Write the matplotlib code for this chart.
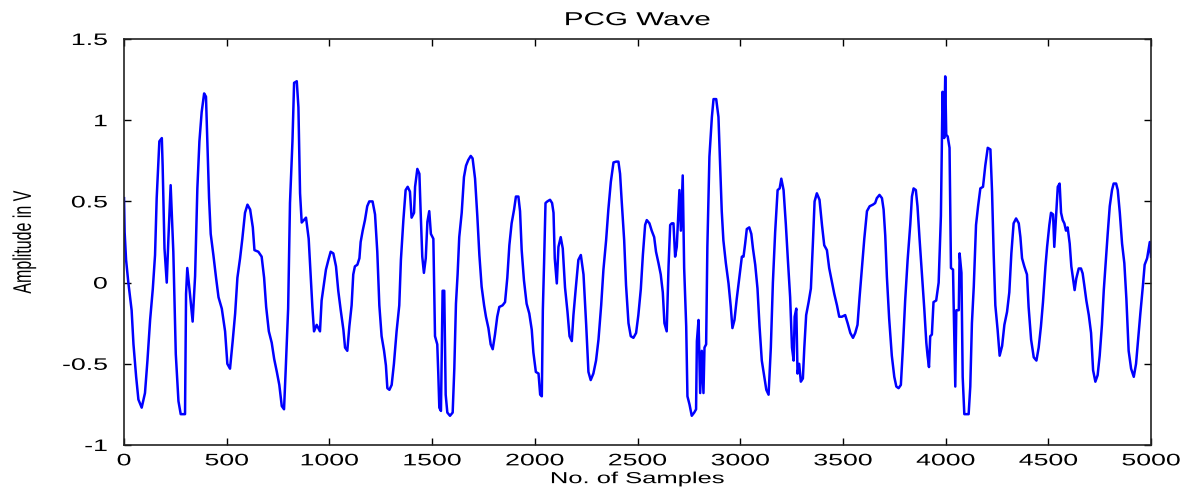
import numpy as np
import matplotlib
matplotlib.use("Agg")
import matplotlib.pyplot as plt
from matplotlib.ticker import FormatStrFormatter
from matplotlib.patheffects import AbstractPathEffect
from matplotlib.transforms import Affine2D

plt.rcParams['font.family'] = ['Liberation Sans', 'DejaVu Sans']
plt.rcParams['axes.unicode_minus'] = False

# points (sample index, amplitude in V)
samples = [0, 3, 10, 21, 37, 46, 59, 70, 86, 102, 114, 127, 140, 151, 159, 172, 184, 188,
           197, 208, 216, 227, 232, 240, 252, 265, 276, 297, 302, 308, 321, 334, 346, 357,
           367, 378, 390, 399, 406, 414, 422, 435, 448, 460, 476, 492, 503, 516, 529, 541,
           552, 565, 576, 589, 601, 614, 627, 635, 654, 670, 682, 692, 705, 719, 731, 744,
           756, 768, 779, 787, 799, 808, 820, 828, 841, 849, 857, 865, 886, 899, 909, 917,
           925, 938, 954, 962, 973, 983, 995, 1006, 1019, 1032, 1043, 1055, 1068, 1076,
           1087, 1097, 1108, 1116, 1124, 1136, 1146, 1152, 1162, 1173, 1184, 1194, 1210,
           1222, 1233, 1243, 1254, 1266, 1275, 1282, 1292, 1303, 1314, 1327, 1340, 1348,
           1360, 1371, 1381, 1392, 1400, 1412, 1417, 1428, 1438, 1444, 1452, 1460, 1469,
           1477, 1486, 1494, 1506, 1514, 1525, 1530, 1535, 1543, 1551, 1559, 1566, 1574,
           1587, 1600, 1608, 1616, 1624, 1632, 1644, 1655, 1665, 1676, 1688, 1697, 1709,
           1720, 1730, 1741, 1753, 1762, 1774, 1785, 1795, 1806, 1817, 1827, 1843, 1855,
           1866, 1876, 1887, 1899, 1908, 1920, 1928, 1936, 1947, 1960, 1973, 1985, 1993,
           2005, 2018, 2026, 2034, 2039, 2045, 2052, 2061, 2074, 2084, 2091, 2097, 2107,
           2115, 2126, 2136, 2147, 2159, 2169, 2180, 2188, 2199, 2212, 2224, 2237, 2250,
           2261, 2272, 2285, 2298, 2310, 2323, 2334, 2347, 2358, 2370, 2383, 2396, 2407,
           2415, 2423, 2435, 2444, 2456, 2467, 2480, 2493, 2504, 2516, 2526, 2537, 2545,
           2558, 2569, 2581, 2590, 2602, 2613, 2623, 2631, 2642, 2651, 2659, 2667, 2675,
           2683, 2691, 2704, 2711, 2720, 2727, 2737, 2743, 2753, 2764, 2776, 2785, 2789,
           2797, 2805, 2813, 2821, 2826, 2834, 2840, 2850, 2862, 2870, 2883, 2894, 2902,
           2910, 2918, 2930, 2943, 2954, 2962, 2972, 2983, 2996, 3008, 3016, 3024, 3032,
           3044, 3054, 3062, 3073, 3084, 3094, 3105, 3117, 3127, 3138, 3149, 3159, 3170,
           3182, 3192, 3200, 3211, 3222, 3232, 3243, 3252, 3260, 3265, 3273, 3279, 3287,
           3295, 3305, 3312, 3321, 3333, 3344, 3354, 3362, 3373, 3386, 3398, 3409, 3422,
           3433, 3446, 3458, 3471, 3482, 3495, 3511, 3523, 3536, 3549, 3560, 3571, 3581,
           3592, 3604, 3617, 3630, 3646, 3657, 3665, 3678, 3690, 3698, 3706, 3714, 3725,
           3738, 3750, 3760, 3771, 3782, 3792, 3803, 3815, 3828, 3836, 3844, 3855, 3863,
           3873, 3885, 3896, 3906, 3912, 3919, 3925, 3933, 3941, 3954, 3966, 3977, 3985,
           3993, 3998, 4003, 4010, 4019, 4026, 4036, 4039, 4047, 4052, 4064, 4068, 4077,
           4083, 4091, 4112, 4120, 4128, 4137, 4148, 4158, 4169, 4182, 4193, 4205, 4218,
           4226, 4234, 4242, 4253, 4263, 4275, 4286, 4299, 4310, 4320, 4331, 4343, 4356,
           4364, 4372, 4383, 4396, 4404, 4416, 4429, 4442, 4453, 4464, 4474, 4486, 4494,
           4505, 4513, 4523, 4529, 4539, 4546, 4555, 4562, 4570, 4578, 4586, 4594, 4604,
           4612, 4620, 4628, 4636, 4648, 4659, 4667, 4675, 4685, 4697, 4708, 4718, 4729,
           4740, 4750, 4761, 4770, 4778, 4789, 4799, 4810, 4818, 4830, 4838, 4848, 4859,
           4870, 4880, 4891, 4903, 4916, 4927, 4937, 4948, 4960, 4969, 4981, 4994, 5000]

amplitude = [0.52, 0.31, 0.14, 0.0, -0.17, -0.38, -0.58, -0.72, -0.77, -0.68, -0.48, -0.23,
             -0.04, 0.17, 0.52, 0.87, 0.89, 0.72, 0.21, 0.0, 0.27, 0.60, 0.44, 0.19, -0.44,
             -0.73, -0.81, -0.81, -0.07, 0.09, -0.07, -0.24, 0.04, 0.58, 0.87, 1.05, 1.165,
             1.145, 0.85, 0.52, 0.30, 0.17, 0.03, -0.09, -0.16, -0.30, -0.50, -0.53, -0.36,
             -0.19, 0.03, 0.15, 0.27, 0.43, 0.48, 0.45, 0.34, 0.20, 0.19, 0.16, 0.03, -0.15,
             -0.30, -0.37, -0.47, -0.55, -0.63, -0.76, -0.78, -0.54, -0.16, 0.49, 0.87, 1.23,
             1.24, 1.08, 0.55, 0.37, 0.40, 0.27, 0.04, -0.15, -0.30, -0.26, -0.30, -0.11,
             -0.01, 0.08, 0.14, 0.19, 0.18, 0.10, -0.05, -0.17, -0.29, -0.40, -0.42, -0.27,
             -0.14, 0.05, 0.10, 0.11, 0.15, 0.25, 0.32, 0.385, 0.47, 0.50, 0.50, 0.42, 0.19,
             -0.14, -0.33, -0.42, -0.51, -0.65, -0.66, -0.63, -0.50, -0.30, -0.14, 0.14,
             0.385, 0.57, 0.59, 0.56, 0.40, 0.43, 0.59, 0.70, 0.67, 0.44, 0.16, 0.06, 0.15,
             0.375, 0.44, 0.30, 0.27, -0.33, -0.38, -0.56, -0.77, -0.79, -0.05, -0.05, -0.69,
             -0.80, -0.82, -0.80, -0.53, -0.13, 0.05, 0.28, 0.43, 0.65, 0.72, 0.755, 0.78,
             0.765, 0.64, 0.41, 0.17, -0.025, -0.14, -0.21, -0.28, -0.38, -0.41, -0.32,
             -0.21, -0.15, -0.14, -0.12, 0.03, 0.23, 0.365, 0.45, 0.53, 0.53, 0.44, 0.20,
             0.015, -0.13, -0.19, -0.29, -0.43, -0.55, -0.56, -0.69, -0.70, -0.17, 0.12,
             0.49, 0.50, 0.51, 0.49, 0.43, 0.15, -0.005, 0.22, 0.28, 0.21, -0.03, -0.18,
             -0.33, -0.36, -0.20, -0.04, 0.14, 0.17, 0.05, -0.26, -0.55, -0.60, -0.56, -0.48,
             -0.35, -0.14, 0.08, 0.26, 0.45, 0.62, 0.74, 0.745, 0.745, 0.67, 0.50, 0.26,
             -0.015, -0.25, -0.33, -0.34, -0.31, -0.20, -0.04, 0.17, 0.355, 0.385, 0.365,
             0.32, 0.28, 0.19, 0.12, 0.05, -0.06, -0.25, -0.30, 0.10, 0.355, 0.365, 0.365,
             0.16, 0.22, 0.57, 0.32, 0.66, 0.09, -0.27, -0.70, -0.75, -0.82, -0.80, -0.78,
             -0.36, -0.23, -0.68, -0.42, -0.68, -0.40, -0.38, 0.22, 0.775, 1.02, 1.13, 1.13,
             1.02, 0.72, 0.44, 0.26, 0.12, -0.005, -0.15, -0.28, -0.23, -0.10, 0.036, 0.16,
             0.16, 0.24, 0.33, 0.34, 0.30, 0.21, 0.11, -0.036, -0.27, -0.48, -0.58, -0.66,
             -0.69, -0.40, 0.0, 0.31, 0.57, 0.58, 0.64, 0.57, 0.36, 0.14, -0.09, -0.40,
             -0.48, -0.21, -0.16, -0.56, -0.50, -0.61, -0.59, -0.40, -0.20, -0.12, -0.036,
             0.25, 0.50, 0.55, 0.51, 0.355, 0.23, 0.20, 0.09, 0.005, -0.07, -0.14, -0.21,
             -0.21, -0.20, -0.25, -0.31, -0.34, -0.31, -0.26, -0.09, 0.08, 0.27, 0.44, 0.47,
             0.48, 0.49, 0.52, 0.54, 0.52, 0.45, 0.29, 0.036, -0.22, -0.45, -0.58, -0.64,
             -0.65, -0.63, -0.40, -0.11, 0.14, 0.36, 0.53, 0.58, 0.57, 0.47, 0.27, 0.05,
             -0.16, -0.37, -0.45, -0.52, -0.33, -0.32, -0.12, -0.11, 0.0, 0.41, 1.175, 0.89,
             1.27, 0.91, 0.90, 0.83, 0.09, 0.08, -0.13, -0.64, -0.17, -0.17, 0.18, 0.06,
             -0.58, -0.81, -0.81, -0.64, -0.25, -0.025, 0.355, 0.47, 0.58, 0.59, 0.72, 0.83,
             0.82, 0.56, 0.17, -0.14, -0.29, -0.45, -0.39, -0.26, -0.18, -0.06, 0.18, 0.365,
             0.395, 0.365, 0.28, 0.15, 0.10, 0.05, -0.15, -0.35, -0.46, -0.48, -0.40, -0.27,
             -0.12, 0.10, 0.22, 0.355, 0.43, 0.42, 0.22, 0.44, 0.59, 0.61, 0.43, 0.385,
             0.365, 0.32, 0.34, 0.24, 0.10, 0.025, -0.046, 0.025, 0.087, 0.087, 0.057,
             -0.015, -0.11, -0.20, -0.31, -0.54, -0.61, -0.57, -0.45, -0.26, -0.046, 0.10,
             0.30, 0.47, 0.57, 0.61, 0.61, 0.57, 0.43, 0.24, 0.12, -0.10, -0.42, -0.53,
             -0.58, -0.50, -0.35, -0.19, -0.025, 0.11, 0.15, 0.25, 0.16]

x_ticks = [0, 500, 1000, 1500, 2000, 2500, 3000, 3500, 4000, 4500, 5000]
y_ticks = [-1, -0.5, 0, 0.5, 1, 1.5]


# the reference image is stretched sideways, so the text is drawn wider too
class Stretch(AbstractPathEffect):
    def __init__(self, s=1.6, anchor='center', axis='x'):
        super().__init__()
        self.s = s
        self.anchor = anchor
        self.axis = axis

    def draw_path(self, renderer, gc, tpath, affine, rgbFace=None):
        ext = tpath.get_extents()
        if self.axis == 'x':
            c = {'center': (ext.x0 + ext.x1) / 2, 'right': ext.x1, 'left': ext.x0}[self.anchor]
            t = Affine2D().translate(-c, 0).scale(self.s, 1).translate(c, 0)
        else:
            c = (ext.y0 + ext.y1) / 2
            t = Affine2D().translate(0, -c).scale(1, self.s).translate(0, c)
        renderer.draw_path(gc, tpath, t + affine, rgbFace)


fig = plt.figure(figsize=(11.96, 4.9), dpi=100)
ax = fig.add_axes([0.1037, 0.0918, 0.8587, 0.8286])

ax.plot(samples, amplitude, color='#0000ff', linewidth=1.8)

ax.set_xlim(0, 5000)
ax.set_ylim(-1, 1.5)
ax.set_xticks(x_ticks)
ax.set_yticks(y_ticks)
ax.yaxis.set_major_formatter(FormatStrFormatter('%g'))
ax.tick_params(direction='in', top=True, right=True, length=5, width=1, labelsize=12)
ax.tick_params(axis='x', pad=6)
ax.tick_params(axis='y', pad=12)
for sp in ax.spines.values():
    sp.set_linewidth(1.2)
    sp.set_color('#222222')

title = ax.set_title('PCG Wave', fontsize=13.5, pad=10)
title.set_path_effects([Stretch(1.58, 'center')])

xl = ax.set_xlabel('No. of Samples', fontsize=11.5, labelpad=2)
xl.set_path_effects([Stretch(1.6, 'center')])

yl = ax.set_ylabel('Amplitude in V', fontsize=11.5, va='center')
yl.set_path_effects([Stretch(1.6, axis='y')])
ax.yaxis.set_label_coords(-0.0975, 0.5)

# tick labels exist for sure only after a first draw
fig.canvas.draw()
for tick in ax.xaxis.get_major_ticks():
    tick.label1.set_path_effects([Stretch(1.6, 'center')])
for tick in ax.yaxis.get_major_ticks():
    tick.label1.set_path_effects([Stretch(1.6, 'right')])

fig.savefig('out.png', dpi=100)
